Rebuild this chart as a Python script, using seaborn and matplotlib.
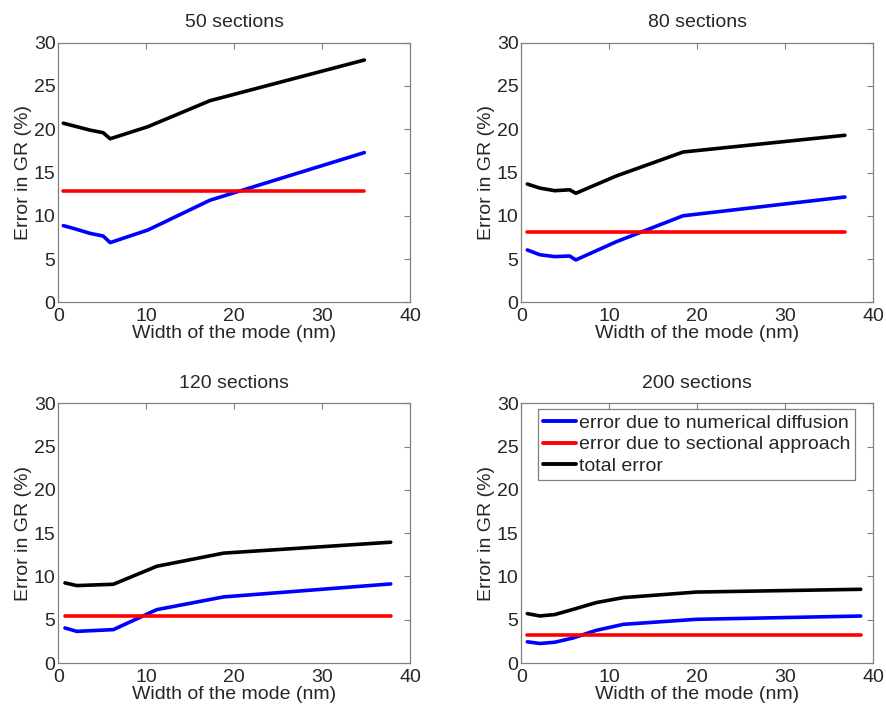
import numpy as np
import pandas as pd
import matplotlib
matplotlib.use("Agg")
import matplotlib.pyplot as plt
import seaborn as sns

# ---- data ----
titles = ["50 sections", "80 sections", "120 sections", "200 sections"]
series_names = ["error due to numerical diffusion",
                "error due to sectional approach",
                "total error"]

x50 = [0.57, 1.7, 3.6, 5.1, 5.9, 10.2, 17.25, 34.8]
num50 = [8.86, 8.55, 7.97, 7.66, 6.9, 8.36, 11.8, 17.3]
tot50 = [20.7, 20.4, 19.9, 19.6, 18.9, 20.3, 23.3, 28.0]
sec50 = [12.9, 12.9]

x80 = [0.68, 2.1, 3.8, 5.5, 6.2, 10.8, 18.4, 36.8]
num80 = [6.05, 5.5, 5.28, 5.35, 4.9, 7.0, 10.0, 12.17]
tot80 = [13.67, 13.2, 12.9, 13.0, 12.6, 14.6, 17.37, 19.3]
sec80 = [8.09, 8.09]

x120 = [0.76, 2.1, 6.26, 11.2, 18.8, 37.8]
num120 = [4.05, 3.66, 3.86, 6.17, 7.64, 9.14]
tot120 = [9.26, 8.95, 9.1, 11.18, 12.7, 13.96]
sec120 = [5.40, 5.40]

x200 = [0.68, 2.1, 3.8, 5.9, 8.5, 11.6, 19.9, 38.6]
num200 = [2.45, 2.26, 2.4, 2.9, 3.77, 4.47, 5.05, 5.43]
tot200 = [5.71, 5.44, 5.6, 6.2, 6.98, 7.56, 8.2, 8.52]
sec200 = [3.24, 3.24]

xticks = [0, 10, 20, 30, 40]
yticks = [0, 5, 10, 15, 20, 25, 30]

panels = [
    (x50, num50, sec50, tot50),
    (x80, num80, sec80, tot80),
    (x120, num120, sec120, tot120),
    (x200, num200, sec200, tot200),
]

# ---- style ----
sns.set_style("white")
plt.rcParams["font.family"] = ["Liberation Sans", "DejaVu Sans"]
plt.rcParams["font.size"] = 14
FS = 14

palette = {series_names[0]: "#0000ff",
           series_names[1]: "#ff0000",
           series_names[2]: "#000000"}

fig = plt.figure(figsize=(8.86, 7.07), dpi=100)
positions = [
    (0.0658, 0.5724, 0.397, 0.3672),
    (0.5884, 0.5724, 0.397, 0.3672),
    (0.0658, 0.0622, 0.397, 0.3672),
    (0.5884, 0.0622, 0.397, 0.3672),
]

for i, (pos, title, (xs, num, sec, tot)) in enumerate(zip(positions, titles, panels)):
    ax = fig.add_axes(pos)
    rows = []
    for xv, yv in zip(xs, num):
        rows.append((xv, yv, series_names[0]))
    for xv, yv in zip([xs[0], xs[-1]], sec):
        rows.append((xv, yv, series_names[1]))
    for xv, yv in zip(xs, tot):
        rows.append((xv, yv, series_names[2]))
    df = pd.DataFrame(rows, columns=["width", "err", "series"])
    sns.lineplot(data=df, x="width", y="err", hue="series", palette=palette,
                 hue_order=series_names, sort=False, estimator=None,
                 linewidth=2.6, ax=ax, legend=(i == 3))
    ax.set_xlim(0, 40)
    ax.set_ylim(0, 30)
    ax.set_xticks(xticks)
    ax.set_yticks(yticks)
    ax.set_xlabel("Width of the mode (nm)", fontsize=FS, labelpad=0)
    ax.set_ylabel("Error in GR (%)", fontsize=FS, labelpad=1)
    ax.set_title(title, fontsize=FS, pad=11)
    ax.tick_params(direction="in", top=True, right=True, length=4,
                   color="#808080", labelsize=FS)
    ax.tick_params(axis="x", pad=4)
    ax.tick_params(axis="y", pad=2)
    for sp in ax.spines.values():
        sp.set_color("#808080")
        sp.set_linewidth(0.9)
    if i == 3:
        leg = ax.legend(loc="upper right", bbox_to_anchor=(0.949, 0.977),
                        borderaxespad=0, fontsize=FS, handlelength=1.7,
                        handletextpad=0.15, borderpad=0.25, labelspacing=0.2,
                        fancybox=False, frameon=True)
        leg.get_frame().set_edgecolor("#606060")
        leg.get_frame().set_linewidth(0.9)
        for ln in leg.get_lines():
            ln.set_linewidth(2.8)

fig.savefig("out.png", dpi=100)
